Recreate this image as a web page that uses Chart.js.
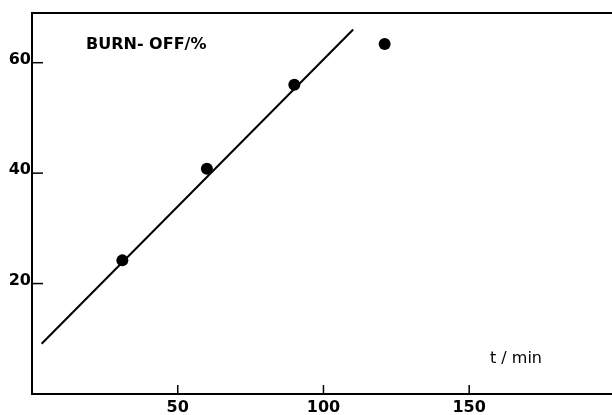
<!DOCTYPE html>
<html>
<head>
<meta charset="utf-8">
<script src="https://cdn.jsdelivr.net/npm/chart.js@4/dist/chart.umd.min.js"></script>
<style>
    body { margin: 0; background: #fff; }
    #wrap { width: 612px; height: 415px; }
</style>
</head>
<body>
<div id="wrap"><canvas id="burnoff"></canvas></div>
<script>
// measured points (t in min, burn-off in %)
const burnTimes = [31, 60, 90, 121];
const burnOff = [24.2, 40.8, 56.0, 63.4];

// straight line drawn through the first three points
const fitTimes = [3.3, 110.2];
const fitBurnOff = [9.1, 66.0];

const xTicks = [50, 100, 150];
const yTicks = [20, 40, 60];

const FONT = 'DejaVu Sans';

// frame top line, inward tick marks and the two text labels
const framePlugin = {
    id: 'frame',
    afterDraw(chart) {
        const ctx = chart.ctx;
        const area = chart.chartArea;
        const x = chart.scales.x;
        const y = chart.scales.y;
        ctx.save();
        ctx.strokeStyle = '#000';
        ctx.lineWidth = 2;
        ctx.beginPath();
        ctx.moveTo(area.left, area.top);
        ctx.lineTo(area.right, area.top);
        ctx.stroke();

        ctx.lineWidth = 1.5;
        xTicks.forEach(v => {
            const px = x.getPixelForValue(v);
            ctx.beginPath();
            ctx.moveTo(px, area.bottom);
            ctx.lineTo(px, area.bottom - 9);
            ctx.stroke();
        });
        yTicks.forEach(v => {
            const py = y.getPixelForValue(v);
            ctx.beginPath();
            ctx.moveTo(area.left, py);
            ctx.lineTo(area.left + 11, py);
            ctx.stroke();
        });

        ctx.fillStyle = '#000';
        ctx.textBaseline = 'alphabetic';
        ctx.textAlign = 'left';
        ctx.font = 'bold 16px "' + FONT + '"';
        ctx.fillText('BURN- OFF/%', area.left + 54, 49);
        ctx.font = '16px "' + FONT + '"';
        ctx.fillText('t / min', area.left + 458, 363);
        ctx.restore();
    }
};

new Chart(document.getElementById('burnoff'), {
    type: 'scatter',
    data: {
        datasets: [
            {
                label: 'fit',
                data: fitTimes.map((t, i) => ({ x: t, y: fitBurnOff[i] })),
                showLine: true,
                borderColor: '#000',
                borderWidth: 2,
                pointRadius: 0
            },
            {
                label: 'burn-off',
                data: burnTimes.map((t, i) => ({ x: t, y: burnOff[i] })),
                backgroundColor: '#000',
                borderColor: '#000',
                pointRadius: 6,
                borderWidth: 0
            }
        ]
    },
    options: {
        responsive: true,
        maintainAspectRatio: false,
        animation: false,
        layout: { autoPadding: false, padding: { top: 13, right: 0, left: 0, bottom: 0 } },
        plugins: {
            legend: { display: false },
            tooltip: { enabled: false }
        },
        scales: {
            x: {
                type: 'linear',
                min: 0,
                max: 199,
                afterBuildTicks: scale => { scale.ticks = xTicks.map(v => ({ value: v })); },
                afterFit: scale => { scale.height = 21; },
                grid: { display: false, drawTicks: false },
                border: { display: true, color: '#000', width: 2 },
                ticks: {
                    color: '#000',
                    padding: 4,
                    maxRotation: 0,
                    font: { family: FONT, size: 16, weight: 'bold' }
                }
            },
            y: {
                type: 'linear',
                min: 0,
                max: 69,
                afterBuildTicks: scale => { scale.ticks = yTicks.map(v => ({ value: v })); },
                afterFit: scale => { scale.width = 32; },
                grid: { display: false, drawTicks: false },
                border: { display: true, color: '#000', width: 2 },
                ticks: {
                    color: '#000',
                    padding: 1,
                    labelOffset: -3,
                    font: { family: FONT, size: 16, weight: 'bold' }
                }
            }
        }
    },
    plugins: [framePlugin]
});
</script>
</body>
</html>
